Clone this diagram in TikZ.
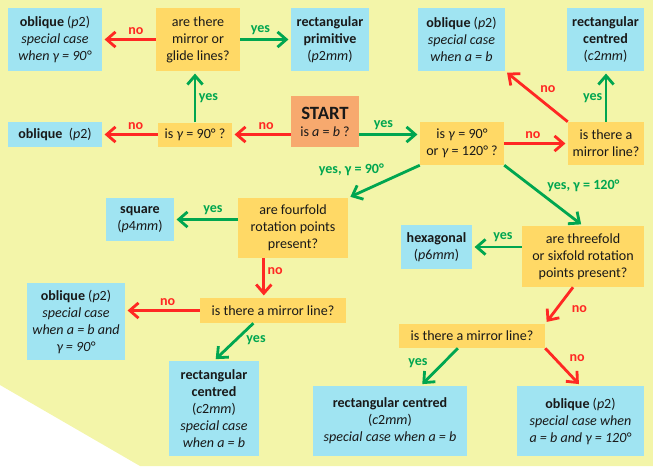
\documentclass[tikz,border=0pt]{standalone}
\usepackage{fontspec}
\setmainfont{Carlito}
\usepackage{tikz}
\usetikzlibrary{arrows.meta}
\definecolor{bgyellow}{rgb}{0.953,0.961,0.663}
\definecolor{ansblue}{rgb}{0.627,0.894,0.949}
\definecolor{askorange}{rgb}{1,0.851,0.4}
\definecolor{startorange}{rgb}{0.969,0.663,0.431}
\definecolor{yesgreen}{rgb}{0,0.651,0.314}
\definecolor{nored}{rgb}{1,0.157,0.137}
\definecolor{txt}{rgb}{0.1,0.1,0.1}

\begin{document}
\begin{tikzpicture}[x=0.03cm,y=-0.03cm,
  every node/.style={font=\fontsize{12}{14.5}\selectfont,text=txt},
  ans/.style={fill=ansblue,align=center,inner sep=0pt},
  ask/.style={fill=askorange,align=center,inner sep=0pt},
  startbox/.style={fill=startorange,align=center,inner sep=0pt},
  wh/.style 2 args={minimum width=#1*0.03cm,minimum height=#2*0.03cm},
  yesarr/.style={draw=yesgreen,line width=2.4pt,-{Straight Barb[length=7.5pt,width=13pt]},shorten >=2pt},
  noarr/.style={draw=nored,line width=2.4pt,-{Straight Barb[length=7.5pt,width=13pt]},shorten >=2pt},
  yeslbl/.style={text=yesgreen,font=\fontsize{12}{14}\selectfont\bfseries,inner sep=2pt},
  nolbl/.style={text=nored,font=\fontsize{12}{14}\selectfont\bfseries,inner sep=2pt}]

  % background
  \fill[bgyellow] (0,0) -- (653,0) -- (653,466) -- (140,466) -- (0,385) -- cycle;
  \useasboundingbox (0,0) rectangle (653,466);

  % top row
  \node[ans,wh={94}{63}] (obl1) at (55,39.5) {\textbf{oblique} (\textit{p}2)\\\textit{special case}\\\textit{when γ = 90°}};
  \node[ask,wh={84}{63}] (mirglide) at (198,39.5) {are there\\mirror or\\glide lines?};
  \node[ans,wh={78}{63}] (rectprim) at (330,39.5) {\textbf{rectangular}\\\textbf{primitive}\\(\textit{p}2\textit{mm})};
  \node[ans,wh={87}{63}] (obl2) at (461.5,39.5) {\textbf{oblique} (\textit{p}2)\\\textit{special case}\\\textit{when a = b}};
  \node[ans,wh={77}{63}] (rectc1) at (605.5,39.5) {\textbf{rectangular}\\\textbf{centred}\\(\textit{c}2\textit{mm})};

  % second row
  \node[ans,wh={94}{25}] (obl0) at (55,134.5) {\textbf{oblique}~ (\textit{p}2)};
  \node[ask,wh={74}{24}] (gam90) at (195,134.5) {is \textit{γ} = 90° ?};
  \node[startbox,wh={68}{51}] (start) at (325,121.5) {{\fontsize{16}{19}\selectfont\bfseries START}\\is \textit{a} = \textit{b} ?};
  \node[ask,wh={84}{43}] (gam90120) at (462,143.5) {is \textit{γ} = 90°\\or \textit{γ} = 120° ?};
  \node[ask,wh={76}{43}] (mirror1) at (606,143.5) {is there a\\mirror line?};

  % middle
  \node[ans,wh={68}{43}] (square) at (140,219.5) {\textbf{square}\\(\textit{p}4\textit{mm})};
  \node[ask,wh={110}{60}] (fourfold) at (293,228) {are fourfold\\rotation points\\present?};
  \node[ans,wh={71}{44}] (hexa) at (436.5,247) {\textbf{hexagonal}\\(\textit{p}6\textit{mm})};
  \node[ask,wh={122}{61}] (threefold) at (583,256.5) {are threefold\\or sixfold rotation\\points present?};

  % bottom
  \node[ans,wh={98}{77}] (obl3) at (76,321.5) {\textbf{oblique} (\textit{p}2)\\\textit{special case}\\\textit{when a = b and}\\\textit{γ = 90°}};
  \node[ask,wh={146}{25}] (mirror2) at (273,310.5) {is there a mirror line?};
  \node[ask,wh={146}{24}] (mirror3) at (472,336) {is there a mirror line?};
  \node[ans,wh={90}{95}] (rectc2) at (214,408.5) {\textbf{rectangular}\\\textbf{centred}\\(\textit{c}2\textit{mm})\\\textit{special case}\\\textit{when a = b}};
  \node[ans,wh={154}{70}] (rectc3) at (390,421) {\textbf{rectangular centred}\\(\textit{c}2\textit{mm})\\\textit{special case when a = b}};
  \node[ans,wh={127}{70}] (obl4) at (580.5,421) {\textbf{oblique} (\textit{p}2)\\\textit{special case when}\\\textit{a = b and γ = 120°}};

  % arrows
  \draw[noarr] (mirglide) -- (obl1) node[nolbl,above=1pt,pos=.37] {no};
  \draw[yesarr] (mirglide) -- (rectprim) node[yeslbl,above=1pt,pos=.4] {yes};
  \draw[yesarr] (gam90) -- (gam90.north |- mirglide.south) node[yeslbl,right,pos=.48] {yes};
  \draw[noarr] (gam90) -- (obl0) node[nolbl,above=1pt,pos=.4] {no};
  \draw[noarr] (gam90.east -| start.west) -- (gam90) node[nolbl,above=1pt,pos=.42] {no};
  \draw[yesarr] (gam90.east -| start.east) -- (gam90.east -| gam90120.west) node[yeslbl,above=1pt,pos=.4] {yes};
  \draw[noarr] (gam90120) -- (mirror1) node[nolbl,above=1pt,pos=.45] {no};
  \draw[noarr] (mirror1.north west) -- (obl2.south east) node[nolbl,above right,pos=.5] {no};
  \draw[yesarr] (mirror1) -- (mirror1.north |- rectc1.south) node[yeslbl,left,pos=.47] {yes};
  \draw[yesarr] (gam90120.south west) -- (fourfold.north east) node[yeslbl,above left,pos=.45] {yes, γ = 90°};
  \draw[yesarr] (gam90120.south east) -- (threefold.north) node[yeslbl,above right,pos=.5] {yes, γ = 120°};
  \draw[yesarr] (fourfold.west |- square.east) -- (square) node[yeslbl,above=1pt,pos=.39] {yes};
  \draw[noarr] (fourfold.226) -- (fourfold.226 |- mirror2.north) node[nolbl,right,pos=.33] {no};
  \draw[noarr] (mirror2.west) -- (mirror2.west -| obl3.east) node[nolbl,above=1pt,pos=.43] {no};
  \draw[yesarr] (mirror2.213) -- (rectc2.north) node[yeslbl,right=6pt,pos=.45] {yes};
  \draw[yesarr] (threefold.west |- hexa.east) -- (hexa) node[yeslbl,above=1pt,pos=.38] {yes};
  \draw[noarr] (threefold.252) -- (mirror3.north east) node[nolbl,right=10pt,pos=.6] {no};
  \draw[yesarr] (mirror3.221) -- (rectc3.49) node[yeslbl,left=10pt,pos=.4] {yes};
  \draw[noarr] (mirror3.south east) -- (obl4.north) node[nolbl,right=10pt,pos=.25] {no};
\end{tikzpicture}
\end{document}
